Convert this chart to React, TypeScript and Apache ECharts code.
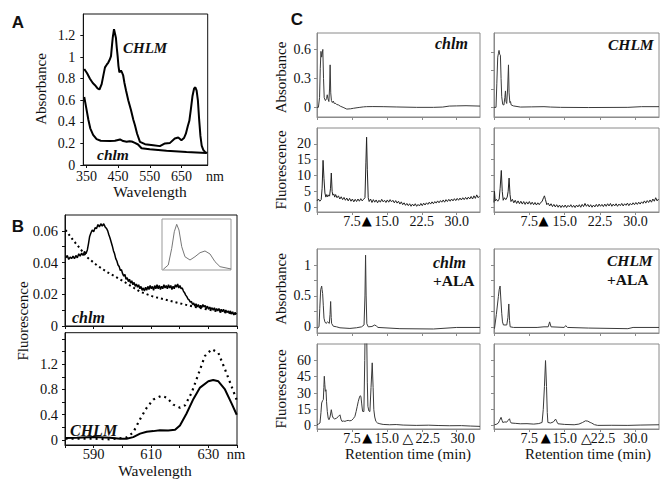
import React, { useEffect, useRef } from "react";
import * as echarts from "echarts";

type P = [number, number];

// ---------------- Panel A : absorbance spectra (nm, absorbance) ----------------
const aCHLM: P[] = [
  [343, 0.89], [352, 0.85], [361, 0.8], [370, 0.76], [377, 0.74], [385, 0.71], [391, 0.7],
  [398, 0.75], [404, 0.84], [408.5, 0.905], [414, 0.93], [419, 0.95], [424, 0.98], [427.5, 1.01],
  [431, 1.12], [433, 1.18], [437, 1.26], [440, 1.22], [443, 1.18], [446, 1.08], [448.5, 1.01],
  [451, 0.92], [454, 0.86], [459, 0.875], [462, 0.86], [466, 0.83], [470, 0.76], [475, 0.69],
  [482, 0.6], [490.6, 0.51], [498, 0.42], [503, 0.37], [510, 0.29], [519, 0.215], [535, 0.193],
  [561, 0.184], [582, 0.175], [598, 0.2], [614, 0.205], [629, 0.246], [640, 0.255], [650, 0.23],
  [658, 0.25], [664, 0.29], [670, 0.36], [675, 0.41], [680, 0.52], [685, 0.64], [690, 0.71],
  [694, 0.72], [698, 0.69], [702, 0.6], [706, 0.42], [710, 0.27], [714, 0.18], [719, 0.14],
  [725, 0.12], [731, 0.11],
];
const aChlm: P[] = [
  [343, 0.63], [348, 0.55], [356, 0.42], [362, 0.34], [371, 0.28], [382, 0.24], [395, 0.225],
  [424, 0.222], [440, 0.225], [456, 0.237], [466, 0.222], [477, 0.215], [486, 0.22], [493, 0.218],
  [503, 0.205], [513, 0.19], [524, 0.155], [550, 0.145], [603, 0.132], [666, 0.12], [729, 0.112],
];
const aXLabels = [350, 450, 550, 650];
const aYLabels = [0, 0.2, 0.4, 0.6, 0.8, 1, 1.2];

// ---------------- Panel B : fluorescence spectra (nm, fluorescence) ----------------
const bTopSolid: P[] = [
  [580.3, 0.043], [580.8, 0.0445], [581.3, 0.042], [581.8, 0.0435], [582.3, 0.0425], [582.8, 0.044],
  [583.3, 0.0425], [583.8, 0.0445], [584.3, 0.043], [584.8, 0.0455], [585.3, 0.044], [585.8, 0.046],
  [586.3, 0.0445], [586.8, 0.047], [587.3, 0.0455], [587.8, 0.048], [588.2, 0.052], [588.6, 0.0565],
  [589, 0.0585], [589.5, 0.0605], [590, 0.0595], [590.5, 0.062], [591, 0.0615], [591.5, 0.064],
  [592, 0.0625], [592.5, 0.0645], [593, 0.063], [593.5, 0.0645], [594, 0.0625], [594.5, 0.0615],
  [594.9, 0.06], [595.3, 0.0575], [595.7, 0.0555], [596.1, 0.053], [596.5, 0.0505], [596.9, 0.0475],
  [597.3, 0.0455], [597.7, 0.0425], [598.1, 0.041], [598.5, 0.0385], [598.9, 0.0375], [599.3, 0.035],
  [599.7, 0.0355], [600.1, 0.033], [600.5, 0.0315], [600.9, 0.0325], [601.3, 0.0295], [601.7, 0.0305],
  [602.1, 0.028], [602.5, 0.0295], [602.9, 0.027], [603.3, 0.0285], [603.7, 0.026], [604.1, 0.0275],
  [604.5, 0.025], [604.9, 0.0265], [605.3, 0.0245], [605.7, 0.026], [606.1, 0.0235], [606.5, 0.025],
  [606.9, 0.0225], [607.3, 0.024], [607.7, 0.022], [608.1, 0.0245], [608.5, 0.0225], [608.9, 0.025],
  [609.3, 0.023], [609.7, 0.0255], [610.1, 0.0235], [610.5, 0.025], [610.9, 0.0225], [611.3, 0.0255],
  [611.7, 0.0235], [612.1, 0.026], [612.5, 0.0235], [612.9, 0.0255], [613.3, 0.023], [613.7, 0.025],
  [614.1, 0.0235], [614.5, 0.026], [614.9, 0.024], [615.3, 0.0255], [615.7, 0.0235], [616.1, 0.026],
  [616.5, 0.024], [616.9, 0.0255], [617.3, 0.023], [617.7, 0.025], [618.1, 0.0235], [618.5, 0.026],
  [618.9, 0.0245], [619.3, 0.0265], [619.7, 0.024], [620.1, 0.0255], [620.5, 0.0235], [620.9, 0.024],
  [621.3, 0.022], [621.7, 0.021], [622.1, 0.0195], [622.5, 0.0185], [622.9, 0.017], [623.3, 0.0165],
  [623.7, 0.015], [624.1, 0.0155], [624.5, 0.0135], [624.9, 0.0145], [625.3, 0.0125], [625.7, 0.014],
  [626.1, 0.012], [626.5, 0.0135], [626.9, 0.0115], [627.3, 0.013], [627.7, 0.0115], [628.1, 0.0135],
  [628.5, 0.012], [628.9, 0.013], [629.3, 0.011], [629.7, 0.0125], [630.1, 0.0105], [630.5, 0.012],
  [630.9, 0.0105], [631.3, 0.0115], [631.7, 0.01], [632.1, 0.0115], [632.5, 0.0095], [632.9, 0.011],
  [633.3, 0.0095], [633.7, 0.011], [634.1, 0.009], [634.5, 0.0105], [634.9, 0.009], [635.3, 0.0105],
  [635.7, 0.0085], [636.1, 0.01], [636.5, 0.0085], [636.9, 0.0095], [637.3, 0.008], [637.7, 0.0095],
  [638.1, 0.0075], [638.5, 0.009], [638.9, 0.007], [639.3, 0.0085], [639.8, 0.0075],
];
const bTopDotted: P[] = [
  [580.2, 0.0605], [582.9, 0.054], [585.2, 0.049], [587.5, 0.0437], [591, 0.0385], [594.5, 0.0342],
  [598, 0.0307], [601.5, 0.0269], [606.2, 0.0216], [610.8, 0.0185], [615.5, 0.0164], [620.1, 0.0143],
  [624.8, 0.0122], [629.5, 0.0105], [634, 0.009], [639.9, 0.0076],
];
const bInset: P[] = [
  [1.9, 0.014], [9.1, 0.098], [14.1, 0.425], [17.8, 0.75], [21.3, 0.896], [24.6, 0.784], [28.6, 0.457],
  [33.3, 0.26], [40.6, 0.196], [47.8, 0.26], [55.1, 0.339], [62.3, 0.373], [69.6, 0.314], [76.8, 0.163],
  [84.1, 0.065], [100, 0.02],
];
const bBotSolid: P[] = [
  [580.2, 0.03], [584.1, 0.035], [589.9, 0.045], [595.7, 0.035], [599.2, 0.02], [601.5, 0.02],
  [603.8, 0.045], [606.2, 0.1], [608.5, 0.13], [610.8, 0.14], [613.1, 0.155], [616, 0.15],
  [618.4, 0.16], [620.1, 0.23], [622.4, 0.42], [624.8, 0.65], [627.1, 0.83], [630, 0.93],
  [631.7, 0.95], [633.5, 0.93], [635.8, 0.8], [638.1, 0.58], [639.9, 0.4],
];
const bBotDotted: P[] = [
  [580.2, 0.02], [590, 0.02], [595.7, 0.01], [601.5, 0.04], [603.8, 0.12], [606.2, 0.33],
  [608.5, 0.51], [610.8, 0.64], [613.7, 0.7], [615.5, 0.67], [617.8, 0.56], [620.1, 0.51],
  [621.9, 0.55], [624.2, 0.75], [626.5, 1.04], [628.8, 1.33], [631.2, 1.44], [633.5, 1.38],
  [635.8, 1.12], [638.1, 0.85], [640, 0.62],
];
const bXTicks = [580, 590, 600, 610, 620, 630, 640];
const bXLabels = [590, 610, 630];
const bTopYTicks = [0, 0.01, 0.02, 0.03, 0.04, 0.05, 0.06];
const bTopYLabels = [0, 0.02, 0.04, 0.06];
const bBotYTicks = [0, 0.2, 0.4, 0.6, 0.8, 1, 1.2, 1.4, 1.6];
const bBotYLabels = [0, 0.4, 0.8, 1.2];

// ---------------- Panel C : HPLC chromatograms (min, signal) ----------------
const cAbsChlm: P[] = [
  [0, 0], [0.3, 0], [0.55, 0.1], [0.7, 0.4], [0.85, 0.58], [1.0, 0.52], [1.1, 0.55], [1.25, 0.6],
  [1.4, 0.3], [1.55, 0.1], [1.8, 0.07], [2.05, 0.09], [2.2, 0.13], [2.35, 0.09], [2.55, 0.06],
  [2.7, 0.2], [2.82, 0.44], [2.95, 0.15], [3.1, 0.07], [3.3, 0.05], [3.5, 0.065], [3.7, 0.04],
  [3.9, 0.045], [4.2, 0.03], [4.6, 0.025], [5.0, 0.012], [5.6, 0.0], [6.4, -0.018], [7.2, -0.015],
  [7.8, -0.01], [8.6, -0.004], [9.2, 0.0], [10.0, 0.005], [10.6, 0.007], [12, 0.008], [14.2, 0.007],
  [17, 0.004], [21.4, 0.0], [25, 0.0], [27, 0.003], [28.4, 0.013], [30, 0.015], [32, 0.017], [35, 0.013],
];
const cAbsCHLM: P[] = [
  [0, 0], [0.43, 0], [0.6, 0.25], [0.79, 0.52], [0.95, 0.56], [1.07, 0.59], [1.2, 0.55], [1.36, 0.54],
  [1.5, 0.3], [1.64, 0.11], [1.85, 0.03], [2.1, 0.024], [2.3, 0.1], [2.43, 0.17], [2.55, 0.06],
  [2.7, 0.04], [2.9, 0.2], [3.07, 0.44], [3.2, 0.15], [3.36, 0.05], [3.5, 0.06], [3.64, 0.025],
  [4.1, 0.015], [5.6, 0.003], [8, 0.005], [10.6, 0.007], [12, 0.003], [14.1, 0.0], [20, -0.002],
  [28.4, 0.0], [31.3, 0.007], [35, 0.007],
];
const cFluChlm: P[] = [
  [0.0, 2.0], [0.3, 2.6], [0.6, 1.9], [0.9, 2.4], [1.1, 6], [1.3, 14.8], [1.5, 9], [1.7, 4.5], [1.9, 3.2],
  [2.1, 4.0], [2.3, 3.3], [2.5, 3.9], [2.7, 3.5], [2.9, 6], [3.07, 10.8], [3.25, 5], [3.4, 3.8], [3.6, 4.2],
  [3.8, 3.2], [4.0, 4.0], [4.3, 3.0], [4.6, 3.6], [4.9, 2.6], [5.2, 3.3], [5.5, 2.4], [5.8, 3.1], [6.1, 2.2],
  [6.4, 2.9], [6.7, 2.0], [7.0, 2.8], [7.3, 1.9], [7.6, 2.6], [7.9, 1.7], [8.2, 2.5], [8.5, 1.8], [8.8, 2.6],
  [9.1, 1.9], [9.4, 2.7], [9.7, 2.0], [10.0, 2.5], [10.3, 3.0], [10.5, 14], [10.65, 22.1], [10.8, 12],
  [11.0, 3.0], [11.2, 1.8], [11.5, 2.6], [11.8, 1.5], [12.1, 2.4], [12.4, 1.6], [12.7, 2.3], [13.0, 1.4],
  [13.3, 2.2], [13.6, 1.6], [13.9, 2.5], [14.2, 1.7], [14.5, 2.2], [14.8, 1.5], [15.1, 2.3], [15.4, 1.6],
  [15.7, 2.4], [16.0, 1.7], [16.3, 2.2], [16.6, 1.4], [16.9, 2.1], [17.2, 1.3], [17.5, 1.9], [17.8, 1.0],
  [18.1, 1.7], [18.4, 0.8], [18.7, 1.4], [19.0, 0.6], [19.3, 1.2], [19.6, 0.5], [19.9, 1.1], [20.2, 0.3],
  [20.5, 1.0], [20.8, 0.4], [21.1, 1.1], [21.4, 0.3], [21.7, 0.9], [22.0, 0.4], [22.3, 1.2], [22.6, 0.5],
  [22.9, 1.3], [23.2, 0.7], [23.5, 1.4], [23.8, 0.9], [24.1, 1.6], [24.4, 1.0], [24.7, 1.7], [25.0, 1.1],
  [25.3, 1.8], [25.6, 1.3], [25.9, 2.0], [26.2, 1.4], [26.5, 2.1], [26.8, 1.6], [27.1, 2.3], [27.4, 1.6],
  [27.7, 2.4], [28.0, 1.8], [28.3, 2.5], [28.6, 1.9], [28.9, 2.6], [29.2, 2.0], [29.5, 2.7], [29.8, 2.1],
  [30.1, 2.8], [30.4, 2.2], [30.7, 2.9], [31.0, 2.3], [31.3, 3.0], [31.6, 2.4], [31.9, 3.1], [32.2, 2.5],
  [32.5, 3.2], [32.8, 2.6], [33.1, 3.4], [33.4, 2.6], [33.7, 3.6], [34.0, 2.8], [34.3, 3.9], [34.6, 3.0],
  [34.9, 3.5],
];
const cFluCHLM: P[] = [
  [0.0, 1.5], [0.1, 5.0], [0.25, 2.0], [0.5, 2.5], [0.8, 1.9], [1.1, 2.6], [1.3, 6], [1.55, 11.6],
  [1.75, 5], [1.95, 2.2], [2.2, 3.0], [2.5, 2.4], [2.8, 3.2], [3.0, 5], [3.2, 9.2], [3.4, 4], [3.6, 1.8],
  [3.9, 2.5], [4.2, 1.4], [4.5, 2.2], [4.8, 1.2], [5.1, 2.0], [5.4, 1.1], [5.7, 1.9], [6.0, 1.0],
  [6.3, 1.8], [6.6, 0.9], [6.9, 1.7], [7.2, 1.0], [7.5, 1.8], [7.8, 0.9], [8.1, 1.6], [8.4, 0.8],
  [8.7, 1.5], [9.0, 0.7], [9.3, 1.4], [9.6, 0.8], [9.9, 1.5], [10.2, 1.8], [10.5, 3.0], [10.7, 3.6],
  [10.9, 2.5], [11.2, 0.8], [11.5, 1.3], [11.8, 0.4], [12.1, 1.1], [12.4, 0.2], [12.7, 0.9], [13.0, 0.1],
  [13.3, 0.8], [13.6, 0.0], [13.9, 0.7], [14.2, -0.1], [14.5, 0.6], [14.8, 0.0], [15.1, 0.7], [15.4, -0.1],
  [15.7, 0.6], [16.0, 0.1], [16.3, 0.8], [16.6, 0.0], [16.9, 0.6], [17.2, -0.1], [17.5, 0.7], [17.8, 0.1],
  [18.1, 0.8], [18.4, 0.0], [18.7, 0.9], [19.0, 0.2], [19.3, 1.2], [19.6, 0.3], [19.9, 0.9], [20.2, 0.1],
  [20.5, 0.8], [20.8, 0.0], [21.1, 0.7], [21.4, 0.1], [21.7, 0.9], [22.0, 0.2], [22.3, 1.0], [22.6, 0.3],
  [22.9, 0.9], [23.2, 0.2], [23.5, 1.0], [23.8, 0.3], [24.1, 1.1], [24.4, 0.4], [24.7, 1.2], [25.0, 0.3],
  [25.3, 1.0], [25.6, 0.4], [25.9, 1.1], [26.2, 0.3], [26.5, 1.0], [26.8, 0.5], [27.1, 1.2], [27.4, 0.4],
  [27.7, 1.1], [28.0, 0.6], [28.3, 1.3], [28.6, 0.5], [28.9, 1.2], [29.2, 0.7], [29.5, 1.4], [29.8, 0.8],
  [30.1, 1.5], [30.4, 0.9], [30.7, 1.6], [31.0, 1.0], [31.3, 1.7], [31.6, 1.2], [31.9, 2.0], [32.2, 1.3],
  [32.5, 2.1], [32.8, 1.5], [33.1, 2.3], [33.4, 1.6], [33.7, 2.6], [34.0, 1.9], [34.3, 3.0], [34.6, 2.0],
  [34.9, 2.6],
];
const cAbsChlmAla: P[] = [
  [0, -0.026], [0.43, 0], [0.6, 0.3], [0.79, 0.6], [1.0, 0.66], [1.1, 0.6], [1.21, 0.54], [1.35, 0.35],
  [1.5, 0.14], [1.7, 0.08], [1.93, 0.055], [2.29, 0.08], [2.64, 0.055], [2.8, 0.2], [2.93, 0.41],
  [3.05, 0.15], [3.14, 0.055], [3.5, 0.01], [4.2, 0.0], [4.93, -0.016], [7.07, -0.026], [8.5, -0.015],
  [9.57, 0.0], [10.1, 0.03], [10.3, 0.5], [10.43, 1.16], [10.55, 0.5], [10.7, 0.05], [11, 0.0],
  [11.8, 0.005], [12.4, 0.03], [12.8, 0.01], [13.1, -0.01], [17.8, -0.03], [25, -0.035], [30, -0.01],
  [35, -0.01],
];
const cAbsCHLMAla: P[] = [
  [0.1, -0.03], [0.21, -0.03], [0.5, 0.2], [0.93, 0.49], [1.1, 0.6], [1.29, 0.66], [1.45, 0.45],
  [1.64, 0.22], [1.8, 0.08], [2, 0.03], [2.71, 0.03], [2.95, 0.15], [3.14, 0.37], [3.3, 0.1], [3.43, 0.0],
  [4.14, -0.01], [9.14, -0.01], [10.6, 0.0], [11.5, 0.0], [11.8, 0.08], [12.1, 0.0], [14.9, -0.01],
  [15.2, 0.02], [15.6, -0.01], [20, -0.02], [28.4, -0.03], [29.5, -0.01], [35, -0.01],
];
const cFluChlmAla: P[] = [
  [0, 0.9], [0.3, 1.5], [0.64, 2.5], [0.85, 12], [1.0, 20.9], [1.2, 23], [1.36, 24], [1.47, 35],
  [1.57, 45.4], [1.68, 38], [1.79, 31.6], [1.93, 33], [2.05, 22], [2.21, 13.2], [2.4, 7], [2.57, 5.5],
  [2.8, 8], [3.07, 14.7], [3.3, 9], [3.5, 7], [3.8, 6.2], [4.21, 7], [4.6, 8.5], [4.93, 10], [5.15, 6],
  [5.36, 4], [5.7, 4.3], [6, 4], [6.35, 4.6], [6.7, 4.9], [7.05, 4.5], [7.43, 4.9], [7.8, 6.5],
  [8.14, 8.6], [8.4, 13], [8.64, 17.8], [8.85, 22], [9.07, 25.5], [9.25, 27.5], [9.43, 27], [9.6, 20],
  [9.79, 13.2], [10.07, 13], [10.25, 60], [10.4, 110], [10.6, 110], [10.8, 40], [10.93, 17.8],
  [11.15, 13.5], [11.36, 13], [11.6, 35], [11.86, 57.7], [12.05, 35], [12.2, 14.7], [12.4, 8],
  [12.64, 4], [13.0, 2.5], [13.5, 1.8], [14.2, 1.2], [15.6, 0.9], [17, 1.1], [18.5, 0.6], [21.3, 0.3],
  [24, 0.5], [26, 0.2], [28.4, 0], [31, 0.1], [33, -0.3], [35, -0.6],
];
const cFluCHLMAla: P[] = [
  [0.1, 0.9], [0.6, 1.5], [0.93, 2.5], [1.2, 5], [1.5, 7.7], [1.7, 5], [1.86, 3], [2.3, 3.5], [2.7, 3.3],
  [3.0, 5], [3.29, 6.4], [3.45, 4], [3.64, 2.5], [4.5, 2.2], [5.57, 1.8], [7, 1.9], [8.43, 1.5], [9.5, 2],
  [10.2, 3], [10.45, 15], [10.7, 36], [10.93, 59.8], [11.14, 36], [11.3, 12], [11.43, 3], [12, 2.5],
  [12.6, 3.5], [13.07, 6.1], [13.35, 3.5], [13.57, 1.8], [15, 1.2], [17, 0.9], [18, 1.5], [18.8, 3],
  [19.4, 4.5], [19.9, 4.2], [20.4, 3], [20.7, 2.5], [21.3, 1], [22, 0.3], [25, 0.4], [28.4, 0.3],
  [31, 0.6], [35, 0.9],
];
const cXTicks = [0, 7.5, 15, 22.5, 30];
const cXLabels = [7.5, 15, 22.5, 30];
const cFilledMarks = [10.7, 10.5, 10.8, 11.0]; // r2c1, r2c2, r4c1, r4c2
const cOpenMarks = [19.5, 19.6]; // r4c1, r4c2
const cAbs1Labels = [0, 0.3, 0.6];
const cAbs1TicksRight = [0, 0.19, 0.38, 0.57];
const cFlu1Labels = [0, 5, 10, 15, 20];
const cAbs2Ticks = [0, 0.25, 0.5, 0.75, 1];
const cAbs2Labels = [0, 0.5, 1];
const cFlu2Labels = [0, 15, 30, 45, 60];

const SERIF = "'Liberation Serif', 'Times New Roman', Times, 'DejaVu Serif', serif";
const SANS = "'Liberation Sans', Arial, Helvetica, sans-serif";
const BLACK = "#111";
const GRAY = "#8a8a8a";
const CLINE = "#3a3a3a";

const App: React.FC = () => {
  const ref = useRef<HTMLDivElement>(null);

  useEffect(() => {
    if (!ref.current) return;
    const chart = echarts.init(ref.current, undefined, { renderer: "svg" });

    const grid = (left: number, top: number, width: number, height: number, color: string) => ({
      left, top, width, height, show: true, borderColor: color, borderWidth: 1,
      backgroundColor: "transparent", containLabel: false, outerBoundsMode: "none",
    });

    const rich = {
      f: { fontFamily: "'DejaVu Sans', sans-serif", fontSize: 13, color: "#000" },
      o: { fontFamily: "'DejaVu Sans', sans-serif", fontSize: 14, color: "#000" },
      s: { fontFamily: SERIF, fontSize: 14, color: BLACK, padding: [0, 0, 0, 12] },
      r: { fontFamily: SERIF, fontSize: 14, color: BLACK, padding: [0, 0, 0, 6] },
    };

    const axis = (
      gi: number, min: number, max: number, ticks: number[], labels: number[],
      fmt: (v: number) => string, color: string, margin: number, size = 14
    ) => {
      const ax: any = {
        type: "value", gridIndex: gi, min, max, scale: false,
        splitLine: { show: false }, minorTick: { show: false },
        axisLine: { show: true, onZero: false, lineStyle: { color, width: 1 } },
        axisTick: { show: ticks.length > 0, length: 3, inside: false, lineStyle: { color, width: 1 } },
        axisLabel: { show: labels.length > 0, margin, color: BLACK, fontFamily: SERIF, fontSize: size, formatter: fmt, rich },
      };
      if (ticks.length) ax.axisTick.customValues = ticks;
      if (labels.length) ax.axisLabel.customValues = labels;
      return ax;
    };

    const plain = (v: number) => String(v);
    // shift: rich style used for labels placed after the open triangle
    const cFmt = (filled: number, open?: number, shift?: string) => (v: number) => {
      if (v === filled) return "{f|▲}";
      if (open !== undefined && v === open) return "{o|△}";
      if (shift && v === 22.5) return `{${shift}|22.5}`;
      if (shift === "s" && v === 30) return "{s|30.0}";
      return v.toFixed(1);
    };

    const grids = [
      grid(83.3, 14, 124.4, 151, BLACK), // 0 A
      grid(65, 215, 172, 111, BLACK), // 1 B top
      grid(162, 219, 69, 51, "#999"), // 2 B inset
      grid(65, 332.7, 172, 112.3, BLACK), // 3 B bottom
      grid(317, 33, 163, 84, GRAY), // 4
      grid(494, 33, 165, 84, GRAY), // 5
      grid(317, 128, 163, 84, GRAY), // 6
      grid(494, 128, 165, 84, GRAY), // 7
      grid(317, 249, 163, 84, GRAY), // 8
      grid(494, 249, 165, 84, GRAY), // 9
      grid(317, 344, 163, 85, GRAY), // 10
      grid(494, 344, 165, 85, GRAY), // 11
    ];

    const hidden = (gi: number, min: number, max: number) => ({
      type: "value", gridIndex: gi, min, max, show: false,
      splitLine: { show: false },
    });

    const xAxes: any[] = [
      axis(0, 340, 733, aXLabels, aXLabels, plain, BLACK, 4),
      axis(1, 580, 640, bXTicks, [], plain, BLACK, 3),
      hidden(2, 0, 100),
      axis(3, 580, 640, bXTicks, bXLabels, plain, BLACK, 1, 14.5),
      axis(4, 0, 35, cXTicks, [], plain, GRAY, 2),
      axis(5, 0, 35, cXTicks, [], plain, GRAY, 2),
      axis(6, 0, 35, cXTicks, [...cXLabels, cFilledMarks[0]], cFmt(cFilledMarks[0]), GRAY, 2),
      axis(7, 0, 35, cXTicks, [...cXLabels, cFilledMarks[1]], cFmt(cFilledMarks[1]), GRAY, 2),
      axis(8, 0, 35, cXTicks, [], plain, GRAY, 2),
      axis(9, 0, 35, cXTicks, [], plain, GRAY, 2),
      axis(10, 0, 35, cXTicks, [...cXLabels, cFilledMarks[2], cOpenMarks[0]], cFmt(cFilledMarks[2], cOpenMarks[0], "s"), GRAY, 2),
      axis(11, 0, 35, cXTicks, [...cXLabels, cFilledMarks[3], cOpenMarks[1]], cFmt(cFilledMarks[3], cOpenMarks[1], "r"), GRAY, 2),
    ];

    const yAxes: any[] = [
      axis(0, 0, 1.4, aYLabels, aYLabels, plain, BLACK, 8),
      axis(1, 0, 0.07, bTopYTicks, bTopYLabels, plain, BLACK, 7, 14.5),
      hidden(2, 0, 1),
      axis(3, -0.08, 1.7, bBotYTicks, bBotYLabels, plain, BLACK, 7, 14.5),
      axis(4, -0.1, 0.77, cAbs1Labels, cAbs1Labels, plain, GRAY, 6),
      axis(5, -0.1, 0.77, cAbs1TicksRight, [], plain, GRAY, 6),
      axis(6, -1.5, 25, cFlu1Labels, cFlu1Labels, plain, GRAY, 6),
      axis(7, -1.5, 25, cFlu1Labels, [], plain, GRAY, 6),
      axis(8, -0.1, 1.26, cAbs2Ticks, cAbs2Labels, plain, GRAY, 6),
      axis(9, -0.1, 1.26, cAbs2Ticks, [], plain, GRAY, 6),
      axis(10, -3, 75, cFlu2Labels, cFlu2Labels, plain, GRAY, 6),
      axis(11, -3, 75, cFlu2Labels, [], plain, GRAY, 6),
    ];

    const line = (idx: number, data: P[], color: string, width: number, type: any = "solid") => ({
      type: "line", xAxisIndex: idx, yAxisIndex: idx, data, showSymbol: false, symbol: "none",
      lineStyle: { color, width, type }, silent: true, clip: true, z: 3,
    });

    const series = [
      line(0, aCHLM, "#000", 2),
      line(0, aChlm, "#000", 2),
      line(1, bTopSolid, "#000", 1.5),
      line(1, bTopDotted, "#000", 2, [2, 3]),
      line(2, bInset, "#777", 1),
      line(3, bBotSolid, "#000", 2),
      line(3, bBotDotted, "#000", 2.2, [2, 4]),
      line(4, cAbsChlm, CLINE, 1),
      line(5, cAbsCHLM, CLINE, 1),
      line(6, cFluChlm, "#222", 1),
      line(7, cFluCHLM, "#222", 1),
      line(8, cAbsChlmAla, CLINE, 1),
      line(9, cAbsCHLMAla, CLINE, 1),
      line(10, cFluChlmAla, CLINE, 1),
      line(11, cFluCHLMAla, CLINE, 1),
    ];

    const txt = (text: string, x: number, y: number, o: any = {}) => ({
      type: "text", x, y, rotation: o.rot || 0, silent: true, z: 10,
      style: {
        text, fill: BLACK, fontFamily: o.ff || SERIF, fontSize: o.size || 15,
        fontWeight: o.fw || "normal", fontStyle: o.fs || "normal",
        align: o.align || "center", verticalAlign: o.va || "middle",
      },
    });
    const R = Math.PI / 2;
    const bi = { fw: "bold", fs: "italic", size: 16, align: "left" };

    const elements = [
      txt("A", 18, 22, { ff: SANS, fw: "bold", size: 17 }),
      txt("B", 18, 226, { ff: SANS, fw: "bold", size: 17 }),
      txt("C", 297, 19, { ff: SANS, fw: "bold", size: 17 }),
      txt("Absorbance", 41, 89, { rot: R }),
      txt("Wavelength", 150, 191, { size: 15.5 }),
      txt("nm", 215, 176, { size: 14 }),
      txt("CHLM", 123, 48, { ...bi, size: 15 }),
      txt("chlm", 97, 154, { ...bi, size: 15.5 }),
      txt("Fluorescence", 23, 321, { rot: R }),
      txt("chlm", 72, 317, bi),
      txt("CHLM", 70, 430, bi),
      txt("Wavelength", 155, 470, { size: 15.5 }),
      txt("nm", 236, 454, { size: 14.5 }),
      txt("Absorbance", 281, 77.5, { rot: R }),
      txt("Fluorescence", 281, 170, { rot: R }),
      txt("Absorbance", 280.5, 289, { rot: R }),
      txt("Fluorescence", 280.5, 389, { rot: R }),
      txt("chlm", 435, 43, bi),
      txt("CHLM", 608, 44, { ...bi, size: 15.5 }),
      txt("chlm", 433, 262, bi),
      txt("+ALA", 433, 280, { fw: "bold", size: 15.5, align: "left" }),
      txt("CHLM", 607, 260, { ...bi, size: 15.5 }),
      txt("+ALA", 607, 279, { fw: "bold", size: 15.5, align: "left" }),
      txt("Retention time (min)", 408, 454),
      txt("Retention time (min)", 588, 454),
    ];

    chart.setOption({
      animation: false,
      backgroundColor: "#fff",
      textStyle: { fontFamily: SERIF },
      grid: grids,
      xAxis: xAxes,
      yAxis: yAxes,
      series,
      graphic: { elements },
    });

    return () => chart.dispose();
  }, []);

  return <div ref={ref} style={{ position: "absolute", left: 0, top: 0, width: 671, height: 483 }} />;
};

export default App;
